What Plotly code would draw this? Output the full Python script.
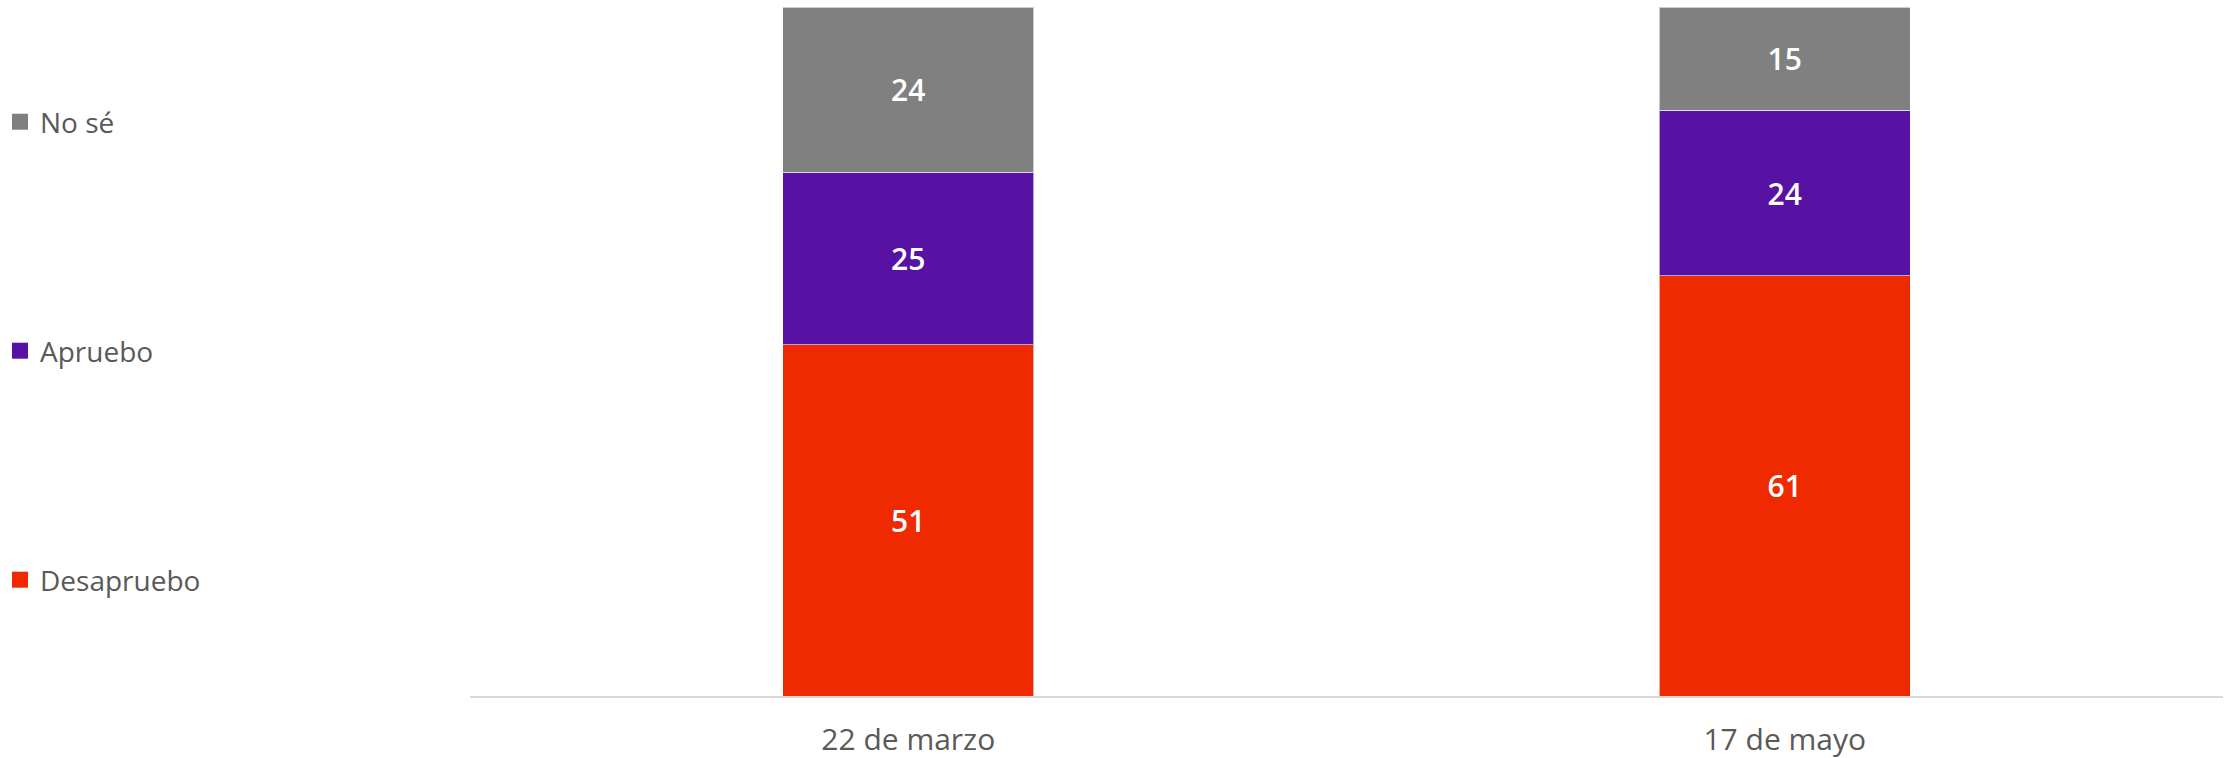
import plotly.graph_objects as go

categories = ["22 de marzo", "17 de mayo"]
desapruebo = [51, 61]
apruebo = [25, 24]
no_se = [24, 15]

series_names = ["Desapruebo", "Apruebo", "No sé"]
series_values = [desapruebo, apruebo, no_se]
series_colors = ["#EF2900", "#5711A3", "#808080"]

FONT = "Open Sans"
TEXT_COLOR = "#595959"
W, H = 2226, 758

fig = go.Figure()
for name, vals, col in zip(series_names, series_values, series_colors):
    fig.add_trace(go.Bar(
        x=categories, y=vals, name=name,
        marker=dict(color=col, line=dict(color="rgba(255,255,255,0.6)", width=1)),
        texttemplate="%{y}", textposition="inside", insidetextanchor="middle",
        textfont=dict(family=FONT, size=30, color="white", weight=600),
        textangle=0, showlegend=False, hoverinfo="skip",
    ))

# one legend per series, placed like the reference (centre y in px from top)
legend_ids = {"Desapruebo": "legend3", "Apruebo": "legend2", "No sé": "legend"}
legend_centres = {"legend": 122, "legend2": 351, "legend3": 580}
for name, col in zip(series_names, series_colors):
    fig.add_trace(go.Scatter(
        x=[None], y=[None], mode="markers", name=name,
        marker=dict(symbol="square", size=16, color=col),
        legend=legend_ids[name], showlegend=True, hoverinfo="skip",
    ))

legend_common = dict(
    xref="container", yref="container", x=0.0, xanchor="left", yanchor="middle",
    font=dict(family=FONT, size=28, color=TEXT_COLOR),
    itemsizing="trace", bgcolor="rgba(0,0,0,0)",
)
layout_legends = {k: dict(legend_common, y=1 - v / H) for k, v in legend_centres.items()}

fig.update_layout(
    width=W, height=H,
    barmode="stack", bargap=0.714,
    paper_bgcolor="white", plot_bgcolor="white",
    margin=dict(l=470, r=3, t=7, b=62, autoexpand=False),
    font=dict(family=FONT, color=TEXT_COLOR),
    xaxis=dict(
        type="category", range=[-0.5, 1.5],
        showline=True, linecolor="#D9D9D9", linewidth=2,
        showgrid=False, ticks="", zeroline=False,
        tickfont=dict(family=FONT, size=30, color=TEXT_COLOR),
        ticklabelstandoff=16, automargin=False,
    ),
    yaxis=dict(range=[0, 100], visible=False, showgrid=False, zeroline=False),
    **layout_legends,
)

fig.write_html(
    "out.html",
    config={"displayModeBar": False},
    post_script="document.body.style.margin='0';document.body.style.overflow='hidden';",
)
